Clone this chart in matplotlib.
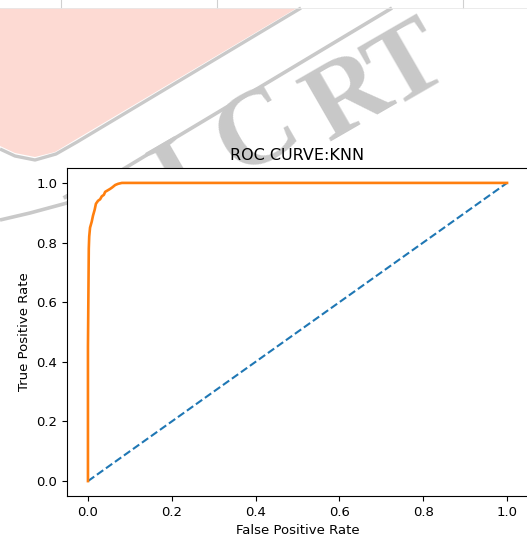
import matplotlib
matplotlib.use("Agg")
import matplotlib.pyplot as plt
from matplotlib.patches import Polygon

# ROC data
fpr = [0.0, 0.0, 0.002, 0.003, 0.005, 0.007, 0.009, 0.012, 0.016, 0.019, 0.024,
       0.029, 0.033, 0.038, 0.041, 0.047, 0.053, 0.058, 0.065, 0.072, 0.081, 1.0]
tpr = [0.0, 0.45, 0.78, 0.82, 0.85, 0.86, 0.87, 0.89, 0.91, 0.93, 0.94,
       0.945, 0.955, 0.96, 0.97, 0.975, 0.98, 0.985, 0.993, 0.997, 1.0, 1.0]
diag = [0.0, 1.0]
title = "ROC CURVE:KNN"
xlabel = "False Positive Rate"
ylabel = "True Positive Rate"

W, H = 527, 542
fig = plt.figure(figsize=(W / 100, H / 100), dpi=100)


def px(x, y):
    return (x / W, 1 - y / H)


def fig_line(pts, color, lw, z=-2):
    xs = [p[0] / W for p in pts]
    ys = [1 - p[1] / H for p in pts]
    fig.add_artist(plt.Line2D(xs, ys, color=color, lw=lw, transform=fig.transFigure,
                              zorder=z, solid_capstyle="butt", solid_joinstyle="round"))


# background watermark (behind the axes)
pink = Polygon([px(0, 8), px(297, 8), px(75, 140), px(55, 152), px(35, 157),
                px(15, 153), px(0, 146)], closed=True, transform=fig.transFigure,
               facecolor="#fddad3", edgecolor="none", zorder=-3)
fig.patches.append(pink)
grey = "#c9c9c9"
fig_line([(301, 8), (77, 142), (56, 154), (35, 160), (15, 156), (0, 149)], grey, 2.4)
fig_line([(392, 8), (150, 153), (67, 203), (30, 213), (0, 220)], grey, 2.6)

letters = ["I", "J", "C", "R", "T"]
centers = [(100, 225), (175, 185), (258, 134), (349, 100), (408, 68)]
for ch, (cx, cy) in zip(letters, centers):
    fig.text(*px(cx, cy), ch, transform=fig.transFigure, fontsize=78,
             family="Liberation Serif", fontweight="bold", color="#c8c8c8",
             rotation=30, ha="center", va="center", zorder=-1)

# top table strip
for xx in [61, 217, 463]:
    fig.add_artist(plt.Line2D([xx / W, xx / W], [1, 1 - 8 / H], color="#d0d0d0",
                              lw=0.8, transform=fig.transFigure, zorder=-1))
fig.add_artist(plt.Line2D([0, 1], [1 - 8 / H, 1 - 8 / H], color="#e8e8e8",
                          lw=0.6, transform=fig.transFigure, zorder=-1))

left, right = 67 / W, 528 / W
bottom, top = 1 - 496 / H, 1 - 168 / H
ax = fig.add_axes([left, bottom, right - left, top - bottom])
ax.set_facecolor("white")
ax.plot(diag, diag, "--", color="C0", lw=1.5)
ax.plot(fpr, tpr, color="C1", lw=1.9)
ax.set_title(title, fontsize=11.5)
ax.set_xlabel(xlabel, fontsize=9.5)
ax.set_ylabel(ylabel, fontsize=9.5)
ax.tick_params(labelsize=9.5)
ax.set_xticks([0.0, 0.2, 0.4, 0.6, 0.8, 1.0])
ax.set_yticks([0.0, 0.2, 0.4, 0.6, 0.8, 1.0])

fig.savefig("out.png", dpi=100)
